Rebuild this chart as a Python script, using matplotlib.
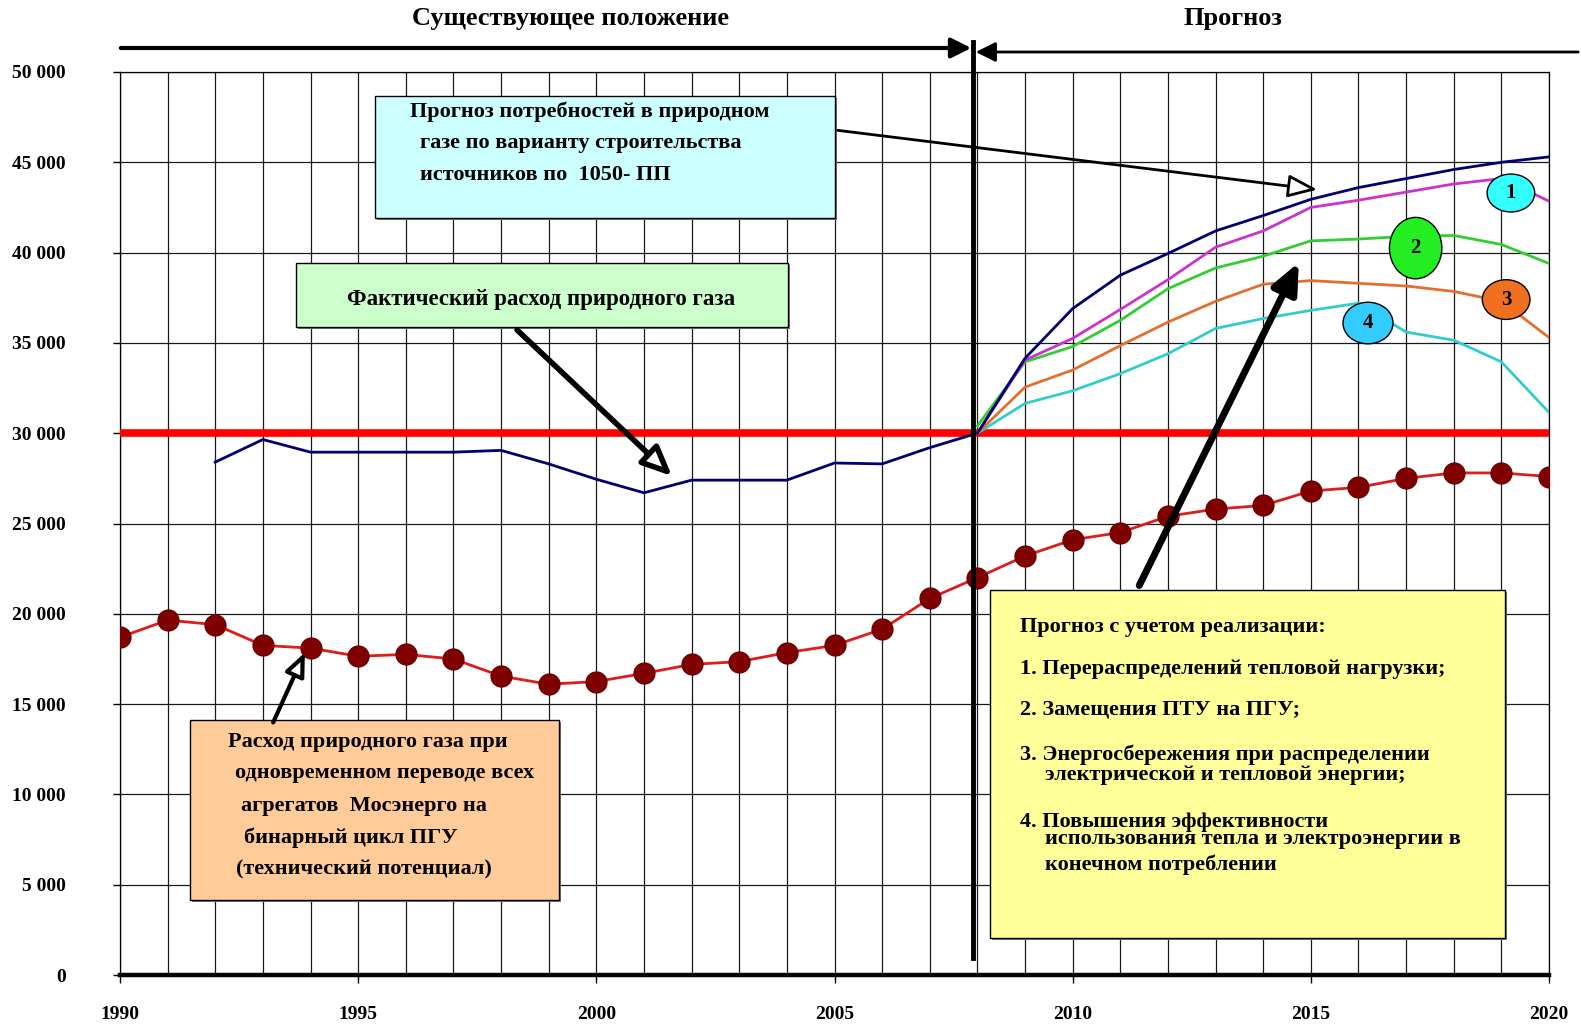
import numpy as np
import matplotlib.pyplot as plt
from matplotlib.patches import Rectangle, Ellipse, FancyArrowPatch
from matplotlib.ticker import MultipleLocator, FuncFormatter

plt.rcParams['font.family'] = ['Liberation Serif', 'DejaVu Serif']
plt.rcParams['font.weight'] = 'bold'

# Data
years = np.arange(1990, 2021)
technical_potential = [18700, 19650, 19400, 18250, 18100, 17650, 17750, 17500, 16550, 16100,
                       16250, 16700, 17200, 17350, 17850, 18250, 19150, 20850, 22000, 23200,
                       24100, 24500, 25400, 25800, 26000, 26800, 27000, 27500, 27800, 27800, 27600]

actual_years = np.arange(1992, 2009)
actual_use = [28400, 29650, 28950, 28950, 28950, 28950, 29050, 28300, 27450, 26700,
              27400, 27400, 27400, 28350, 28300, 29200, 30000]

forecast_years = np.arange(2008, 2021)
forecast_1050 = [30000, 34150, 36900, 38750, 39950, 41200, 42050, 42950, 43600, 44100, 44600, 45000, 45300]
forecast_1 = [30000, 34050, 35250, 36850, 38500, 40300, 41200, 42500, 42900, 43350, 43800, 44100, 42850]
forecast_2 = [30400, 33950, 34800, 36250, 38000, 39150, 39800, 40650, 40750, 40900, 40950, 40450, 39400]
forecast_3 = [30000, 32550, 33500, 34850, 36150, 37300, 38250, 38450, 38300, 38150, 37850, 37300, 35300]
forecast_4 = [30000, 31650, 32350, 33300, 34400, 35800, 36350, 36800, 37200, 35600, 35150, 33950, 31150]

limit_level = 30000

W, H = 1581, 1026
fig = plt.figure(figsize=(W / 100, H / 100), dpi=100)
ax = fig.add_axes([120 / W, 1 - 975 / H, (1549 - 120) / W, (975 - 72) / H])


def fxy(x, y):
    return x / W, 1 - y / H


## axes, grid
ax.set_xlim(1990, 2020)
ax.set_ylim(0, 50000)
ax.xaxis.set_major_locator(MultipleLocator(5))
ax.xaxis.set_minor_locator(MultipleLocator(1))
ax.yaxis.set_major_locator(MultipleLocator(5000))
ax.yaxis.set_major_formatter(FuncFormatter(lambda v, p: f"{int(v):,}".replace(",", " ")))
ax.grid(which='both', axis='x', color='#1a1a1a', lw=0.9)
ax.grid(which='major', axis='y', color='#1a1a1a', lw=0.9)
ax.set_axisbelow(True)
ax.tick_params(axis='x', which='minor', length=0)
ax.tick_params(axis='x', which='major', length=6, width=1, pad=16, labelsize=14)
ax.tick_params(axis='y', length=5, width=1, pad=34, labelsize=14)
for lab in ax.get_yticklabels():
    lab.set_horizontalalignment('right')
for s in ['left', 'right', 'top']:
    ax.spines[s].set_linewidth(0.9)
ax.spines['bottom'].set_linewidth(3.2)

## series
ax.axhline(limit_level, color='#ff0000', lw=5.5, zorder=3)
ax.plot(years, technical_potential, color='#dd1c1c', lw=2, marker='o', markersize=15,
        markerfacecolor='#800000', markeredgecolor='#6a0000', zorder=4)
ax.plot(actual_years, actual_use, color='#000070', lw=2, zorder=4)
ax.plot(forecast_years, forecast_4, color='#33cccc', lw=2, zorder=4)
ax.plot(forecast_years, forecast_3, color='#e07030', lw=2, zorder=4)
ax.plot(forecast_years, forecast_2, color='#33cc33', lw=2, zorder=4)
ax.plot(forecast_years, forecast_1, color='#cc33cc', lw=2, zorder=4)
ax.plot(forecast_years, forecast_1050, color='#000070', lw=2, zorder=4)

# numbered labels
labels = [("1", 2019.2, 43300, 1.0, 2100, '#33ffff'),
          ("2", 2017.2, 40250, 1.1, 3400, '#22ee22'),
          ("3", 2019.1, 37400, 1.0, 2200, '#f07020'),
          ("4", 2016.2, 36100, 1.05, 2300, '#33ccff')]
for t, cx, cy, w, h, c in labels:
    ax.add_patch(Ellipse((cx, cy), w, h, fc=c, ec='black', lw=1, zorder=6))
    ax.text(cx, cy, t, ha='center', va='center', fontsize=15, zorder=7)

## headings and period arrows
fig.text(*fxy(570, 18), "Существующее положение", ha='center', va='center', fontsize=19)
fig.text(*fxy(1233, 18), "Прогноз", ha='center', va='center', fontsize=19)
fig.add_artist(FancyArrowPatch(fxy(118, 48), fxy(974, 48), transform=fig.transFigure,
                               arrowstyle='-|>,head_length=1.0,head_width=0.5',
                               mutation_scale=12, lw=3, color='black'))
fig.add_artist(FancyArrowPatch(fxy(1581, 52), fxy(973, 52), transform=fig.transFigure,
                               arrowstyle='-|>,head_length=1.0,head_width=0.5',
                               mutation_scale=12, lw=2, color='black'))
fig.add_artist(plt.Line2D([973 / W, 973 / W], [1 - 42 / H, 1 - 958 / H],
                          transform=fig.transFigure, lw=3.5, color='black'))


## text boxes
def box(x0, y0, x1, y1, color):
    fig.add_artist(Rectangle((x0 / W + 2 / W, 1 - y1 / H - 2 / H), (x1 - x0) / W, (y1 - y0) / H,
                             transform=fig.transFigure, fc='#777777', ec='none'))
    fig.add_artist(Rectangle((x0 / W, 1 - y1 / H), (x1 - x0) / W, (y1 - y0) / H,
                             transform=fig.transFigure, fc=color, ec='black', lw=1))


def arrow(p0, p1, lw, hl, hw, fc='black'):
    fig.add_artist(FancyArrowPatch(fxy(*p0), fxy(*p1), transform=fig.transFigure,
                                   arrowstyle=f'-|>,head_length={hl},head_width={hw}',
                                   mutation_scale=20, lw=lw, ec='black', fc=fc))


box(375, 96, 835, 218, '#ccffff')
for x, y, s in [(410, 112, "Прогноз потребностей в природном"),
                (420, 143, "газе по варианту строительства"),
                (420, 175, "источников по  1050- ПП")]:
    fig.text(*fxy(x, y), s, ha='left', va='center', fontsize=16)
arrow((835, 130), (1320, 190), 2, 0.9, 0.35, 'white')

box(296, 263, 788, 327, '#ccffcc')
fig.text(*fxy(541, 299), "Фактический расход природного газа", ha='center', va='center', fontsize=16.5)
arrow((515, 328), (674, 478), 4, 0.9, 0.4, 'white')

box(190, 720, 559, 900, '#ffcc99')
for x, y, s in [(228, 742, "Расход природного газа при"),
                (235, 773, "одновременном переводе всех"),
                (241, 806, "агрегатов  Мосэнерго на"),
                (244, 838, "бинарный цикл ПГУ"),
                (236, 869, "(технический потенциал)")]:
    fig.text(*fxy(x, y), s, ha='left', va='center', fontsize=16)
arrow((272, 725), (306, 650), 3, 0.7, 0.3, 'white')

box(990, 590, 1505, 938, '#ffff99')
for x, y, s in [(1020, 627, "Прогноз с учетом реализации:"),
                (1020, 669, "1. Перераспределений тепловой нагрузки;"),
                (1020, 710, "2. Замещения ПТУ на ПГУ;"),
                (1020, 755, "3. Энергосбережения при распределении"),
                (1045, 775, "электрической и тепловой энергии;"),
                (1020, 822, "4. Повышения эффективности"),
                (1045, 839, "использования тепла и электроэнергии в"),
                (1045, 865, "конечном потреблении")]:
    fig.text(*fxy(x, y), s, ha='left', va='center', fontsize=16)
arrow((1138, 588), (1300, 260), 5, 0.9, 0.4)

fig.savefig('out.png', dpi=100)
